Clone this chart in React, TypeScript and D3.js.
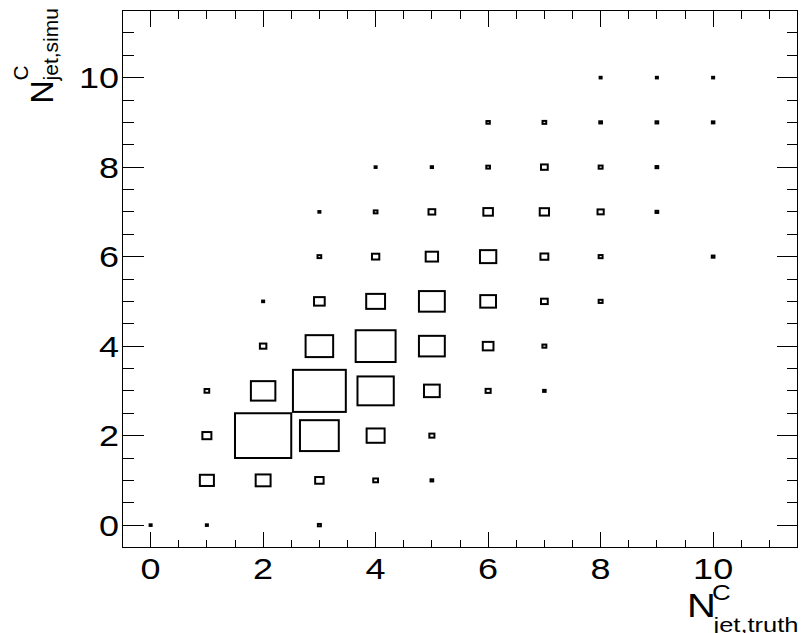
import React from "react";
import * as d3 from "d3";

// cell contents (relative, largest bin = 100)
const cellTruth = [
  0, 1, 3,
  1, 2, 3, 4, 5,
  1, 2, 3, 4, 5,
  1, 2, 3, 4, 5, 6, 7,
  2, 3, 4, 5, 6, 7,
  2, 3, 4, 5, 6, 7, 8,
  3, 4, 5, 6, 7, 8, 10,
  3, 4, 5, 6, 7, 8, 9,
  4, 5, 6, 7, 8, 9,
  6, 7, 8, 9, 10,
  8, 9, 10,
];
const cellSimu = [
  0, 0, 0,
  1, 1, 1, 1, 1,
  2, 2, 2, 2, 2,
  3, 3, 3, 3, 3, 3, 3,
  4, 4, 4, 4, 4, 4,
  5, 5, 5, 5, 5, 5, 5,
  6, 6, 6, 6, 6, 6, 6,
  7, 7, 7, 7, 7, 7, 7,
  8, 8, 8, 8, 8, 8,
  9, 9, 9, 9, 9,
  10, 10, 10,
];
const cellContent = [
  3.6, 3.6, 5.3,
  25, 26.5, 15, 8.5, 4.8,
  16, 100, 69, 32, 9,
  8.3, 43.5, 94, 64.5, 28, 9, 4.5,
  11.5, 49, 71, 46, 19, 7,
  3.6, 19, 33.5, 46, 28, 12, 7,
  6.6, 13, 22, 29, 14, 7, 4.8,
  3.6, 6.6, 12, 17, 16.5, 11, 4.8,
  3.6, 4, 6.5, 12, 7, 4.8,
  6, 6.6, 4.8, 4.8, 4.5,
  3.6, 3.6, 3.6,
];

const xMajor = [0, 2, 4, 6, 8, 10];
const yMajor = [0, 2, 4, 6, 8, 10];

const W = 804;
const H = 633;
const FONT = "'Liberation Sans', Arial, Helvetica, sans-serif";

export default function App() {
  const x = d3.scaleLinear().domain([-0.5, 11.5]).range([122.5, 797.5]);
  const y = d3.scaleLinear().domain([-0.5, 11.5]).range([547.5, 10.5]);
  const binW = x(1) - x(0);
  const binH = y(0) - y(1);
  const side = d3
    .scaleLinear()
    .domain([0, d3.max(cellContent) as number])
    .range([0, 1]);

  const minor = d3.range(0, 11.01, 0.5).filter((v) => v % 2 !== 0);

  const [x0, x1] = x.range();
  const [y0, y1] = y.range();

  return (
    <svg
      width={W}
      height={H}
      style={{ position: "absolute", left: 0, top: 0, background: "#fff" }}
      fontFamily={FONT}
    >
      {/* boxes */}
      <g fill="none" stroke="#000" strokeWidth={2}>
        {cellContent.map((v, i) => {
          const f = side(v);
          const w = f * binW;
          const h = f * binH;
          return (
            <rect
              key={i}
              x={x(cellTruth[i]) - w / 2}
              y={y(cellSimu[i]) - h / 2}
              width={w}
              height={h}
            />
          );
        })}
      </g>

      {/* frame + ticks */}
      <g stroke="#000" strokeWidth={1} shapeRendering="crispEdges">
        <rect x={x0} y={y1} width={x1 - x0} height={y0 - y1} fill="none" />
        {xMajor.map((t) => (
          <g key={"xm" + t}>
            <line x1={x(t)} x2={x(t)} y1={y0} y2={y0 - 16} />
            <line x1={x(t)} x2={x(t)} y1={y1} y2={y1 + 16} />
          </g>
        ))}
        {minor.map((t) => (
          <g key={"xn" + t}>
            <line x1={x(t)} x2={x(t)} y1={y0} y2={y0 - 8} />
            <line x1={x(t)} x2={x(t)} y1={y1} y2={y1 + 8} />
          </g>
        ))}
        {yMajor.map((t) => (
          <g key={"ym" + t}>
            <line x1={x0} x2={x0 + 21} y1={y(t)} y2={y(t)} />
            <line x1={x1} x2={x1 - 21} y1={y(t)} y2={y(t)} />
          </g>
        ))}
        {minor.map((t) => (
          <g key={"yn" + t}>
            <line x1={x0} x2={x0 + 11} y1={y(t)} y2={y(t)} />
            <line x1={x1} x2={x1 - 11} y1={y(t)} y2={y(t)} />
          </g>
        ))}
      </g>

      {/* tick labels */}
      <g fontSize={36} fill="#000">
        {xMajor.map((t) => (
          <text
            key={"xl" + t}
            transform={`translate(${x(t)},578.5) scale(1,0.82)`}
            textAnchor="middle"
          >
            {t}
          </text>
        ))}
        {yMajor.map((t) => (
          <text
            key={"yl" + t}
            transform={`translate(119,${y(t) + 10.6}) scale(1,0.82)`}
            textAnchor="end"
          >
            {t}
          </text>
        ))}
      </g>

      {/* x title */}
      <g fill="#000">
        <text transform="translate(687,616.7) scale(1,0.82)" fontSize={40}>
          N
        </text>
        <text transform="translate(712,600) scale(1,0.82)" fontSize={26}>
          C
        </text>
        <text transform="translate(713.5,631.5) scale(1,0.82)" fontSize={25.5}>
          jet,truth
        </text>
      </g>

      {/* y title */}
      <g fill="#000" transform="translate(52.7,103.5) rotate(-90)">
        <text x={0} y={0} fontSize={32}>
          N
        </text>
        <text x={23.1} y={-24.7} fontSize={21}>
          C
        </text>
        <text x={23.1} y={5.3} fontSize={21}>
          jet,simu
        </text>
      </g>
    </svg>
  );
}
